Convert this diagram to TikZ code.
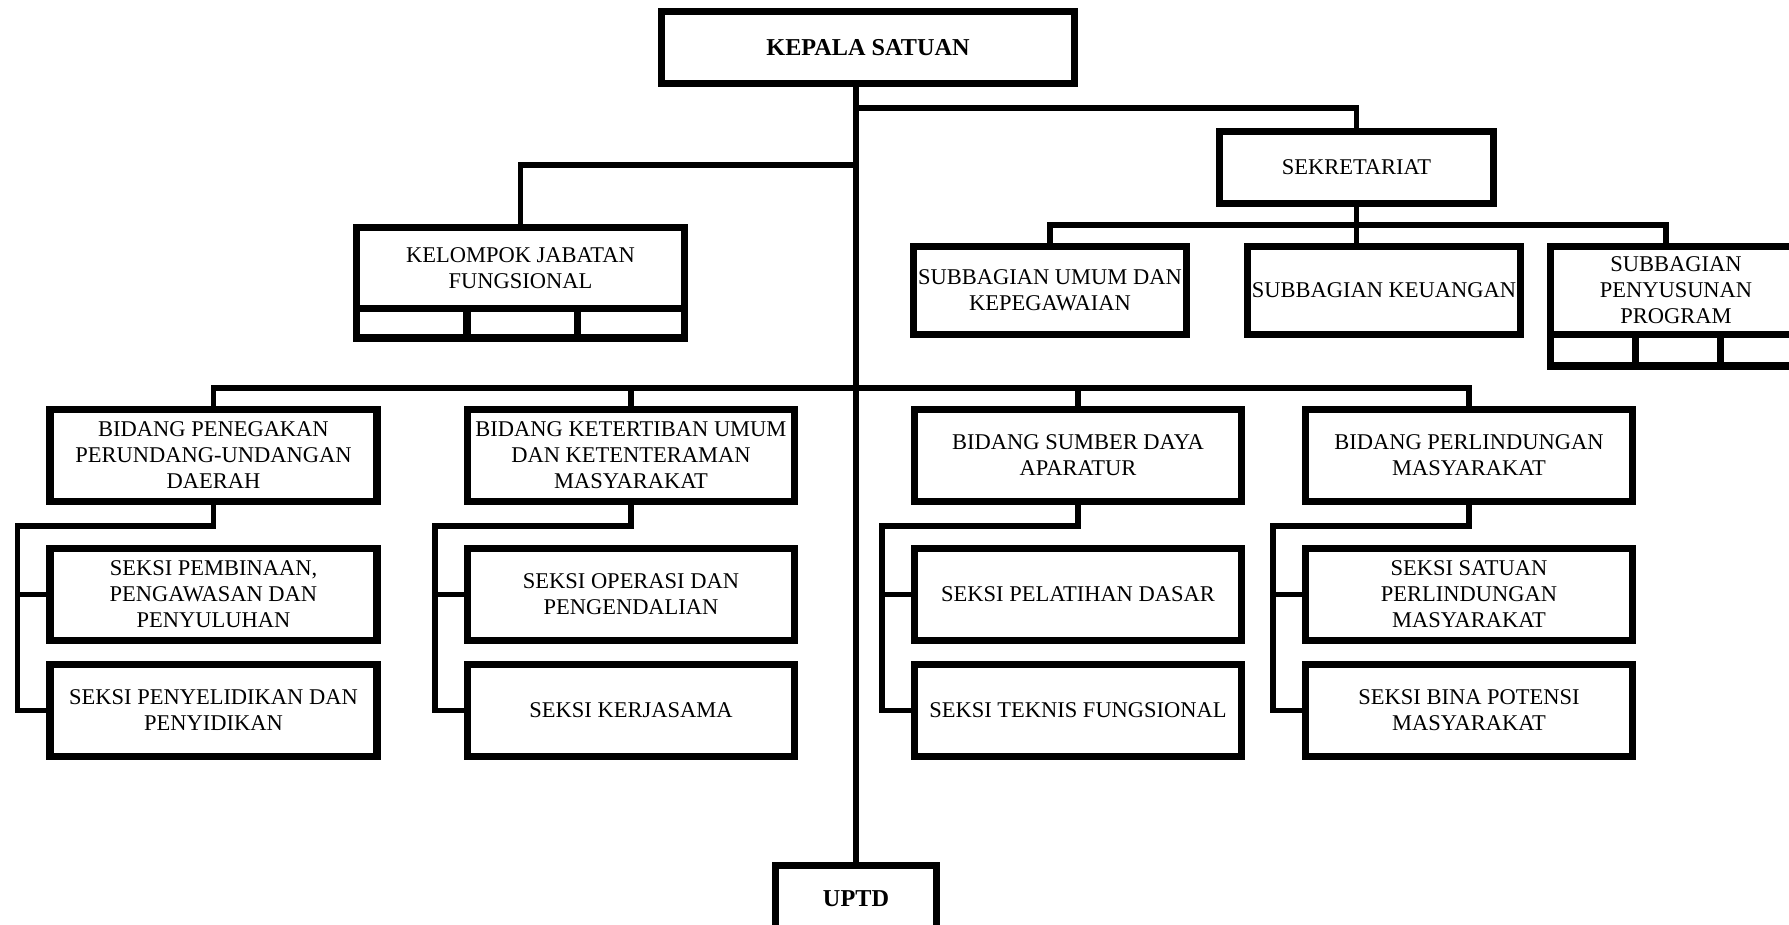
\documentclass[tikz,border=0pt]{standalone}
\usepackage{fontspec}
\setmainfont{Liberation Serif}
\usepackage{tikz}
\usetikzlibrary{positioning,calc}

\begin{document}
\begin{tikzpicture}[
    unit/.style={draw,line width=2pt,align=center,inner sep=1pt,
      font=\fontsize{6.4}{7.4}\selectfont},
    head/.style={unit,font=\fontsize{6.9}{8}\selectfont\bfseries},
    bid/.style={unit,minimum width=3.27cm,minimum height=0.92cm},
    sub/.style={unit,minimum width=2.73cm,minimum height=0.88cm},
    link/.style={line width=1.6pt}
  ]
    \useasboundingbox (0,0) rectangle (17.89,-9.25);
    \fill[white] (0,0) rectangle (17.89,-9.25);

    % top of the chart
    \node[head,minimum width=4.13cm,minimum height=0.72cm] (kepala) at (8.68,-0.475) {KEPALA SATUAN};
    \node[head,minimum width=1.61cm,minimum height=0.665cm] (uptd) at (8.56,-8.988) {UPTD};
    \node[unit,minimum width=2.74cm,minimum height=0.72cm] (sekr) at (13.565,-1.675) {SEKRETARIAT};
    \node[unit,minimum width=3.28cm,minimum height=0.81cm] (kelompok) at (5.205,-2.68)
      {KELOMPOK JABATAN\\FUNGSIONAL};

    \coordinate (jsek) at (8.56,-1.08);
    \coordinate (jkel) at (8.56,-1.65);
    \coordinate (bbar) at (8.56,-3.88);
    \coordinate (sbar) at (13.565,-2.25);

    \draw[link] (kepala.south -| uptd.north) -- (uptd.north);
    \draw[link] (jsek) -| (sekr.north);
    \draw[link] (jkel) -| (kelompok.north);

    % sekretariat
    \node[sub] (umum) at (10.50,-2.905) {SUBBAGIAN UMUM DAN\\KEPEGAWAIAN};
    \node[sub] (keuangan) at (13.84,-2.905) {SUBBAGIAN KEUANGAN};
    \node[sub,minimum width=2.51cm] (penyusunan) at (16.76,-2.905) {SUBBAGIAN\\PENYUSUNAN\\PROGRAM};
    \draw[link] (umum.north) |- (sbar) -| ([xshift=-1mm]penyusunan.north);
    \draw[link] (sekr.south) -- (sekr.south |- keuangan.north);

    % empty cells under the two boxes
    \foreach \n/\h in {kelompok/0.295,penyusunan/0.315}{
      \draw[line width=2pt] (\n.south west) ++(0.035,0.035) coordinate (\n a)
        rectangle ([shift={(-0.035,0.035-\h)}]\n.south east);
      \foreach \f in {0.3333,0.6667}
        \draw[line width=2pt] ($(\n a)!\f!(\n a -| \n.south east)$) -- ++(0,-\h);
    }

    % bidang and seksi
    \foreach \i/\x/\btxt/\atxt/\ctxt in {
      1/2.135/{BIDANG PENEGAKAN\\PERUNDANG-UNDANGAN\\DAERAH}/{SEKSI PEMBINAAN,\\PENGAWASAN DAN\\PENYULUHAN}/{SEKSI PENYELIDIKAN DAN\\PENYIDIKAN},
      2/6.31/{BIDANG KETERTIBAN UMUM\\DAN KETENTERAMAN\\MASYARAKAT}/{SEKSI OPERASI DAN\\PENGENDALIAN}/{SEKSI KERJASAMA},
      3/10.78/{BIDANG SUMBER DAYA\\APARATUR}/{SEKSI PELATIHAN DASAR}/{SEKSI TEKNIS FUNGSIONAL},
      4/14.69/{BIDANG PERLINDUNGAN\\MASYARAKAT}/{SEKSI SATUAN\\PERLINDUNGAN\\MASYARAKAT}/{SEKSI BINA POTENSI\\MASYARAKAT}}{
      \node[bid] (bid\i) at (\x,-4.555) {\btxt};
      \node[bid,below=4mm of bid\i] (sa\i) {\atxt};
      \node[bid,below=1.7mm of sa\i] (sb\i) {\ctxt};
      \draw[link] (bid\i.south) -- ++(0,-0.21) -| ([xshift=-2.9mm]sb\i.west) -- (sb\i.west);
      \draw[link] ([xshift=-2.9mm]sa\i.west) -- (sa\i.west);
    }
    \draw[link] (bid1.north) |- (bbar) -| (bid4.north);
    \draw[link] (bid2.north) -- (bid2.north |- bbar);
    \draw[link] (bid3.north) -- (bid3.north |- bbar);
  \end{tikzpicture}
\end{document}
